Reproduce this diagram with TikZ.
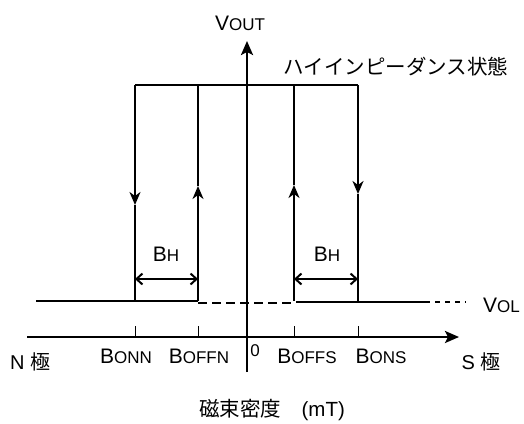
\documentclass[tikz,border=0pt]{standalone}
\usepackage{fontspec}
\setmainfont{Liberation Sans}
\newfontfamily\jpfont{Noto Sans CJK JP}
\usetikzlibrary{positioning, arrows.meta}

% big letter followed by smaller capitals (V_OUT, B_ONN ...)
\newcommand{\capsub}[2]{{\fontsize{21}{21}\selectfont #1}{\fontsize{17}{17}\selectfont #2}}

\begin{document}
\begin{tikzpicture}[x=1pt,y=-1pt,
    axis/.style={line width=2.5pt,-{Stealth[length=14pt,width=12pt,inset=3pt]}},
    hyst/.style={line width=2.2pt},
    flow/.style={line width=2.2pt,-{Stealth[length=13pt,width=11pt,inset=4pt]}},
    vol/.style={line width=1.4pt},
    tickmark/.style={line width=1pt},
    bh/.style={line width=2pt,
        {Straight Barb[length=6pt,width=11pt]}-{Straight Barb[length=6pt,width=11pt]}},
    lbl/.style={inner sep=0pt},
    jplbl/.style={inner sep=0pt,font=\jpfont\fontsize{20.5}{20.5}\selectfont}]

    \useasboundingbox (0,0) rectangle (524,423);

    % axes
    \coordinate (ybot) at (247,372);
    \coordinate (ytop) at (247,41);
    \coordinate (xleft) at (27,337);
    \coordinate (xright) at (459,337);
    \draw[axis] (ybot) -- (ytop);
    \draw[axis] (xleft) -- (xright);

    % switching points
    \foreach \n/\x in {onn/135,offn/198,offs/294,ons/358}{
        \coordinate (\n-top) at (\x,85);
        \coordinate (\n-low) at (\x,301);
        \coordinate (\n-tick) at (\x,326);
        \coordinate (\n-axis) at (\x,337);
        \draw[tickmark] (\n-tick) -- (\n-axis);
    }
    \coordinate (onn-mid) at (135,205);
    \coordinate (offn-mid) at (198,186);
    \coordinate (offs-mid) at (294,185);
    \coordinate (ons-mid) at (358,194);

    % hysteresis loop
    \draw[hyst] (onn-top) -- (ons-top);
    \draw[flow] (onn-top) -- (onn-mid);
    \draw[hyst] (onn-mid) -- (onn-low);
    \draw[flow] (offn-low) -- (offn-mid);
    \draw[hyst] (offn-mid) -- (offn-top);
    \draw[flow] (offs-low) -- (offs-mid);
    \draw[hyst] (offs-mid) -- (offs-top);
    \draw[flow] (ons-top) -- (ons-mid);
    \draw[hyst] (ons-mid) -- (ons-low);

    % V_OL level
    \coordinate (vol-start) at (36,301);
    \coordinate (dash-a) at (198,303);
    \coordinate (dash-b) at (294,303);
    \coordinate (vol-mid) at (296,302);
    \coordinate (vol-end) at (425,302);
    \coordinate (vol-fade) at (466,302);
    \draw[vol] (vol-start) -- (offn-low);
    \draw[vol,dash pattern=on 9pt off 5pt] (dash-a) -- (dash-b);
    \draw[vol] (vol-mid) -- (vol-end);
    \draw[vol,dash pattern=on 5pt off 5pt] (vol-end) -- (vol-fade);

    % hysteresis widths
    \coordinate (bh1-l) at (135,279);
    \coordinate (bh1-r) at (198,279);
    \coordinate (bh2-l) at (294,279);
    \coordinate (bh2-r) at (358,279);
    \draw[bh] (bh1-l) -- (bh1-r);
    \draw[bh] (bh2-l) -- (bh2-r);

    %putting labels:
    \node[lbl] (vout) at (240,23) {\capsub{V}{OUT}};
    \node[jplbl] (hiz) at (396,67) {ハイインピーダンス状態};
    \node[lbl] (bh1) at (166,254) {\capsub{B}{H}};
    \node[lbl] (bh2) at (327,254) {\capsub{B}{H}};
    \node[lbl,anchor=west] (vol) at (483,305) {\capsub{V}{OL}};

    \node[lbl] (npole) at (30,362) {\fontsize{20}{20}\selectfont N {\jpfont 極}};
    \node[lbl] (bonn) at (126,356) {\capsub{B}{ONN}};
    \node[lbl] (boffn) at (199,356) {\capsub{B}{OFFN}};
    \node[lbl] (zero) at (255,351) {\fontsize{17}{17}\selectfont 0};
    \node[lbl] (boffs) at (307,356) {\capsub{B}{OFFS}};
    \node[lbl] (bons) at (381,356) {\capsub{B}{ONS}};
    \node[lbl] (spole) at (481,362) {\fontsize{20}{20}\selectfont S {\jpfont 極}};

    \node[jplbl] (flux) at (272,410) {磁束密度　\fontspec{Liberation Sans}(mT)};

\end{tikzpicture}
\end{document}
